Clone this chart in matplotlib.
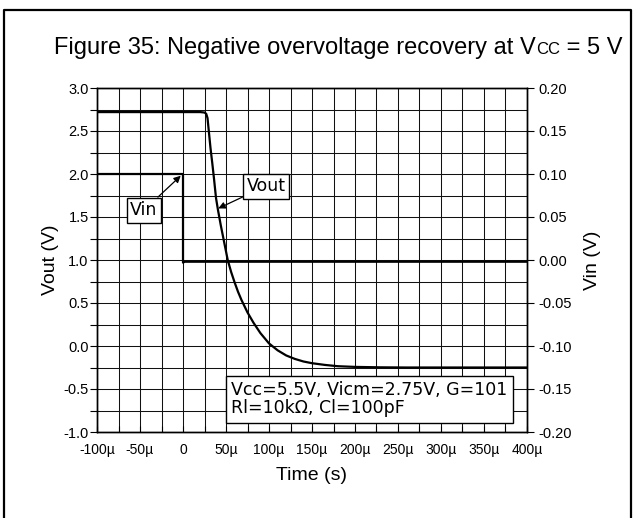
import matplotlib
matplotlib.use("Agg")
import matplotlib.pyplot as plt
from matplotlib.lines import Line2D
from matplotlib.ticker import MultipleLocator

# time axis in microseconds
t_vout = [-100, 20, 25, 27, 28.5, 30, 32, 34, 36, 38.4, 40.7, 44, 48, 52, 56, 60,
          64, 68, 75, 82, 90, 100, 110, 120, 130, 140, 150, 165, 180, 200, 230,
          260, 300, 350, 400]
vout = [2.72, 2.72, 2.715, 2.70, 2.65, 2.50, 2.30, 2.13, 1.95, 1.72, 1.58, 1.40,
        1.20, 1.00, 0.86, 0.74, 0.63, 0.535, 0.39, 0.27, 0.15, 0.03, -0.05, -0.11,
        -0.15, -0.18, -0.20, -0.22, -0.235, -0.243, -0.248, -0.25, -0.25, -0.25,
        -0.25]

t_vin = [-100, 0, 0, 2, 400]
vin = [0.100, 0.100, -0.003, -0.002, -0.002]

xticks = [-100, -50, 0, 50, 100, 150, 200, 250, 300, 350, 400]
xlabels = ['-100µ', '-50µ', '0', '50µ', '100µ', '150µ', '200µ', '250µ',
           '300µ', '350µ', '400µ']

W, H = 633, 518
fig = plt.figure(figsize=(W / 100, H / 100), dpi=100)
ax = fig.add_axes([97 / W, 1 - 432 / H, 430 / W, 344 / H])
ax2 = ax.twinx()

ax.plot(t_vout, vout, color='k', lw=1.6, zorder=3)
ax2.plot(t_vin, vin, color='k', lw=1.6, zorder=3)

ax.set_xlim(-100, 400)
ax.set_ylim(-1.0, 3.0)
ax2.set_ylim(-0.2, 0.2)

ax.set_xticks(xticks)
ax.set_xticklabels(xlabels)
ax.xaxis.set_minor_locator(MultipleLocator(25))
ax.yaxis.set_major_locator(MultipleLocator(0.5))
ax.yaxis.set_minor_locator(MultipleLocator(0.25))
ax.yaxis.set_major_formatter(matplotlib.ticker.FormatStrFormatter('%.1f'))
ax2.yaxis.set_major_locator(MultipleLocator(0.05))
ax2.yaxis.set_major_formatter(matplotlib.ticker.FormatStrFormatter('%.2f'))

ax.grid(which='both', color='#111111', lw=0.75)
ax.set_axisbelow(True)

tick_font = 'Liberation Sans'
ax.tick_params(axis='y', which='both', direction='out', length=5, width=0.8,
               labelsize=10.5, pad=1)
ax.tick_params(axis='x', which='both', direction='in', length=4, width=0.8,
               labelsize=10, pad=8)
ax2.tick_params(axis='y', which='major', direction='out', length=5, width=0.8,
                labelsize=10.5, pad=3)
for lab in ax.get_xticklabels() + ax.get_yticklabels() + ax2.get_yticklabels():
    lab.set_family(tick_font)

for sp in list(ax.spines.values()) + list(ax2.spines.values()):
    sp.set_linewidth(1.0)

ax.set_xlabel('Time (s)', family=tick_font, fontsize=14, labelpad=7)
ax.set_ylabel('Vout (V)', family=tick_font, fontsize=14, labelpad=3)
ax2.set_ylabel('Vin (V)', family=tick_font, fontsize=14, labelpad=9)

box = dict(boxstyle='square,pad=0.2', fc='white', ec='k', lw=1.0)
arrow = dict(arrowstyle='-|>', color='k', lw=0.9, mutation_scale=10,
             shrinkA=0, shrinkB=0)
ax.annotate('Vin', xy=(-2.6, 1.98), xytext=(-45.3, 1.58), ha='center',
            va='center', fontsize=12.5, family='DejaVu Sans', bbox=box,
            arrowprops=arrow, zorder=5)
ax.annotate('Vout', xy=(41, 1.60), xytext=(96.5, 1.86), ha='center',
            va='center', fontsize=12.5, family='DejaVu Sans', bbox=box,
            arrowprops=arrow, zorder=5)
ax.text(0.634, 0.0945, 'Vcc=5.5V, Vicm=2.75V, G=101\nRl=10kΩ, Cl=100pF',
        transform=ax.transAxes, ha='center', va='center', ma='left',
        fontsize=12.5, family='DejaVu Sans', linespacing=1.0,
        bbox=dict(boxstyle='square,pad=0.3', fc='white', ec='k', lw=1.0),
        zorder=6)

# title, with the small-caps "CC" sitting on the baseline
fig.canvas.draw()
r = fig.canvas.get_renderer()
x = 54 / W
base = 1 - 54 / H
for s, fs in [('Figure 35: Negative overvoltage recovery at V', 17),
              ('CC', 12), (' = 5 V', 17)]:
    t = fig.text(x, base, s, fontsize=fs, family='Liberation Sans',
                 ha='left', va='baseline')
    x += t.get_window_extent(r).width / W

# frame around the figure
fig.add_artist(Line2D([3.5 / W, 3.5 / W, 630.5 / W, 630.5 / W],
                      [-0.01, 1 - 10 / H, 1 - 10 / H, -0.01],
                      transform=fig.transFigure, color='k', lw=1.6))

fig.savefig('out.png', dpi=100)
